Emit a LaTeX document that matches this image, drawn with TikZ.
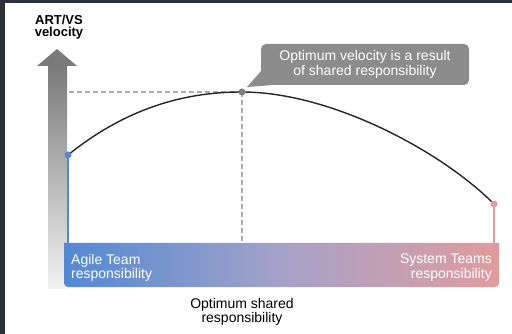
\documentclass[tikz,border=0pt]{standalone}
\usepackage{fontspec}
\setmainfont{Liberation Sans}
\usetikzlibrary{positioning}
\definecolor{framedark}{HTML}{2A3139}
\definecolor{agileblue}{HTML}{5289D4}
\definecolor{systempink}{HTML}{E09C9E}
\definecolor{midviolet}{HTML}{A5A2C8}
\definecolor{calloutgray}{HTML}{8C8C8C}
\definecolor{guidegray}{HTML}{ABABAB}
\definecolor{axisgray}{HTML}{7A7A7A}
\begin{document}
\begin{tikzpicture}[x=1pt, y=-1pt,
	txt/.style={font=\fontsize{14}{14.5}\selectfont, align=center, inner sep=0pt},
	guide/.style={guidegray, line width=1.2pt, dash pattern=on 5pt off 3pt},
	dot/.style={circle, fill=#1, inner sep=0pt, minimum size=7pt}]
	\useasboundingbox (0,0) rectangle (512,334);
	\fill[framedark] (0,0) rectangle (512,334);
	\fill[white] (5,3) rectangle (512,334);
	% velocity axis
	\shade[top color=axisgray, bottom color=white!95!black] (48,66) rectangle (67,288);
	\fill[axisgray] (37,66) -- (57,49) -- (77,66) -- cycle;
	\node (yaxis) [txt, font=\fontsize{13}{12.8}\selectfont\bfseries, anchor=north] at (59,14.5) {ART/VS\\velocity};
	% responsibility bar
	\shade[left color=agileblue, right color=systempink, middle color=midviolet]
		(64,243) [rounded corners=4pt] -- (64,287) -- (499,287) [sharp corners] -- (499,243) -- cycle;
	\coordinate (bartop) at (0,243);
	\coordinate (start) at (68,155);
	\coordinate (peak) at (242,92);
	\coordinate (finish) at (494,204);
	\draw[agileblue, line width=1.6pt] (start) -- (start |- bartop);
	\draw[systempink, line width=1.6pt] (finish) -- (finish |- bartop);
	\draw[guide] (peak) -- (peak -| start);
	\draw[guide] (peak) -- (peak |- bartop);
	% velocity curve
	\draw[black!85, line width=1.4pt] (start) .. controls (130,105) and (190,92) .. (peak)
		.. controls (330,92) and (440,150) .. (finish);
	\node (startdot) [dot=agileblue] at (start) {};
	\node (peakdot) [dot=gray] at (peak) {};
	\node (finishdot) [dot=systempink] at (finish) {};
	% callout
	\node (callout) [txt, white, fill=calloutgray, rounded corners=5pt, minimum width=208pt, minimum height=41pt] at (365,64.5)
		{Optimum velocity is a result\\of shared responsibility};
	\fill[calloutgray] ([xshift=1pt, yshift=15pt]callout.south west) -- ([xshift=5pt, yshift=5pt]peak)
		-- ([xshift=10pt]callout.south west) -- cycle;
	% labels
	\node (agile) [txt, white, align=left, anchor=north west] at (71,254) {Agile Team\\responsibility};
	\node (system) [txt, white, align=right, anchor=north east] at (492,254) {System Teams\\responsibility};
	\node (optimum) [txt, font=\fontsize{14}{13.5}\selectfont, anchor=north] at (242,298.5) {Optimum shared\\responsibility};
\end{tikzpicture}
\end{document}
